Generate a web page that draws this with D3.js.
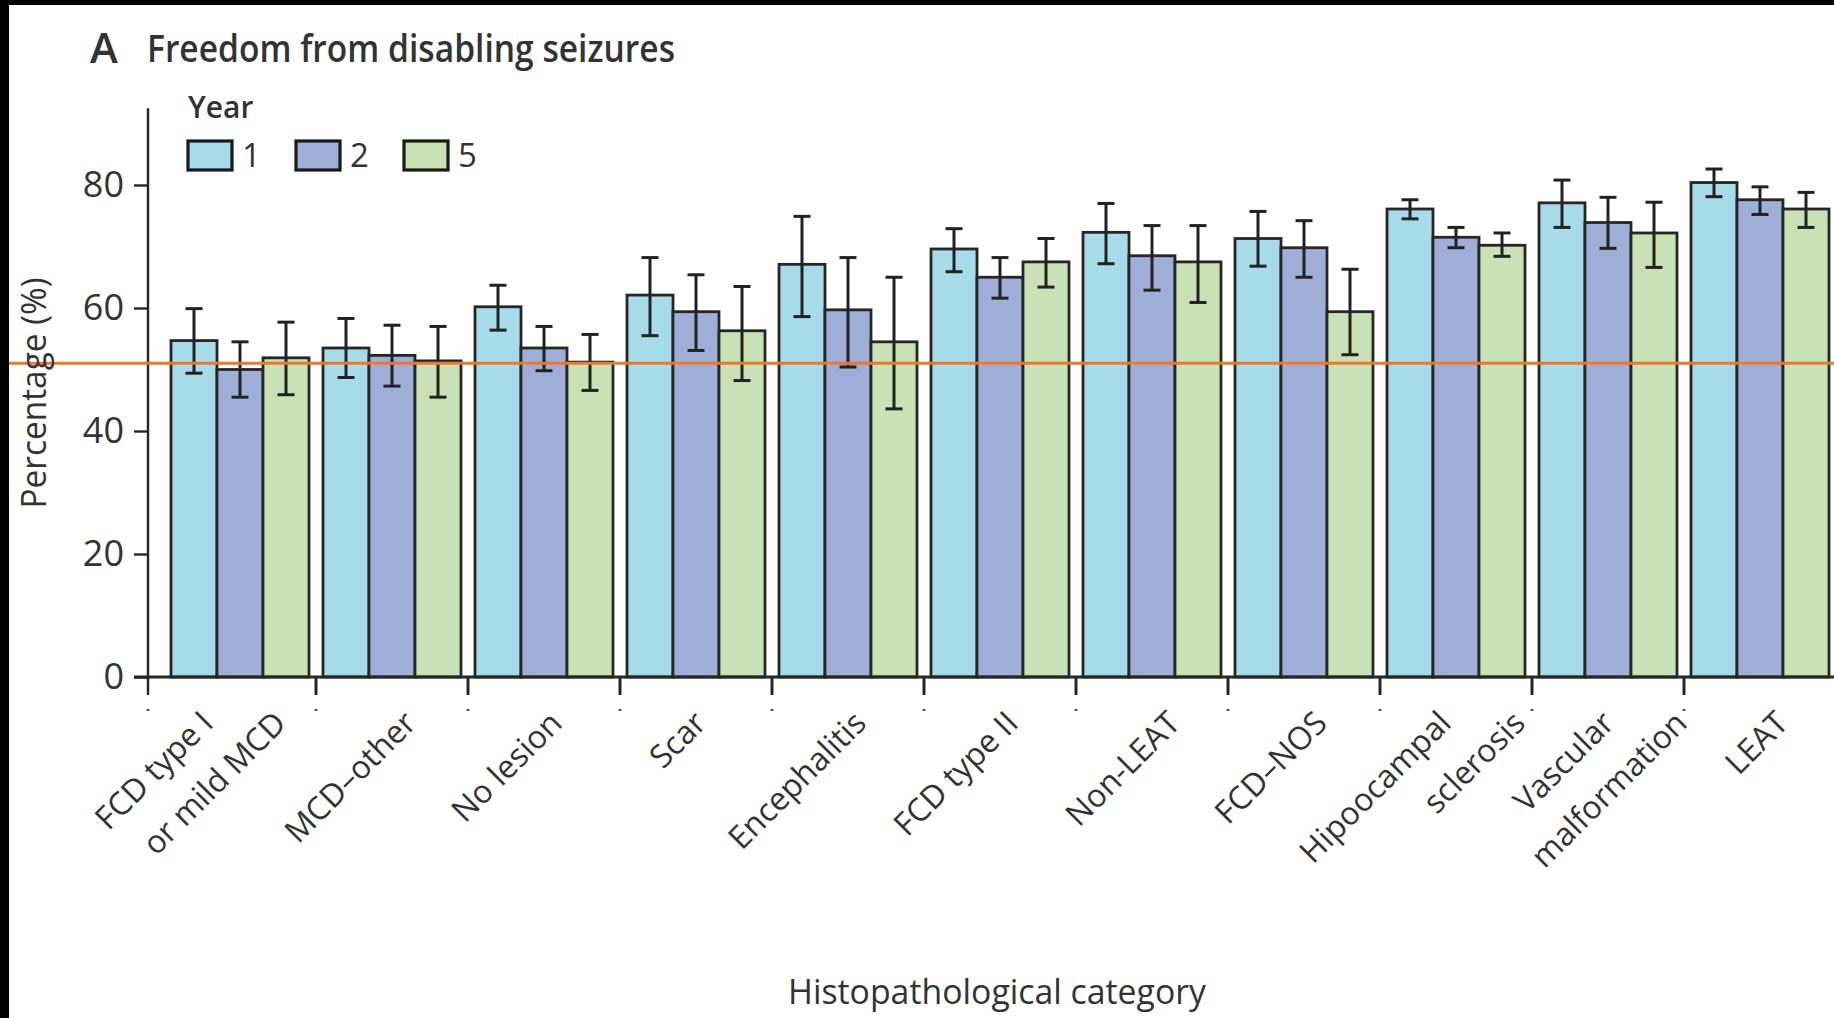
<!DOCTYPE html>
<html>
<head>
<meta charset="utf-8">
<script src="https://cdn.jsdelivr.net/npm/d3@7"></script>
<style>
  body { margin: 0; background: #fff; }
  svg { display: block; }
  text { font-family: "Open Sans", "Noto Sans", sans-serif; fill: #333; }
</style>
</head>
<body>
<div id="chart"></div>
<script>
// categories along the x axis (label lines as printed)
const categories = ["FCD type I or mild MCD", "MCD–other", "No lesion", "Scar", "Encephalitis",
  "FCD type II", "Non-LEAT", "FCD–NOS", "Hipoocampal sclerosis", "Vascular malformation", "LEAT"];
const categoryLines = [["FCD type I", "or mild MCD"], ["MCD–other"], ["No lesion"], ["Scar"], ["Encephalitis"],
  ["FCD type II"], ["Non-LEAT"], ["FCD–NOS"], ["Hipoocampal", "sclerosis"], ["Vascular", "malformation"], ["LEAT"]];

const years = ["1", "2", "5"];

// percentage free from disabling seizures, with lower / upper error bar ends
const year1 = [54.7, 53.5, 60.2, 62.1, 67.1, 69.6, 72.3, 71.3, 76.1, 77.1, 80.4];
const year1Low = [49.4, 48.7, 56.4, 55.5, 58.6, 65.9, 67.2, 66.8, 74.5, 73.1, 78.1];
const year1High = [59.9, 58.3, 63.7, 68.2, 74.9, 72.9, 77.0, 75.7, 77.6, 80.8, 82.6];

const year2 = [50.0, 52.3, 53.5, 59.4, 59.7, 65.0, 68.5, 69.8, 71.5, 73.9, 77.6];
const year2Low = [45.5, 47.3, 49.8, 53.1, 50.4, 61.6, 62.9, 65.0, 69.8, 69.7, 75.2];
const year2High = [54.5, 57.2, 57.0, 65.4, 68.2, 68.2, 73.4, 74.2, 73.1, 78.0, 79.7];

const year5 = [51.9, 51.4, 51.2, 56.3, 54.5, 67.5, 67.5, 59.4, 70.2, 72.2, 76.1];
const year5Low = [45.9, 45.5, 46.6, 48.2, 43.6, 63.4, 60.9, 52.4, 68.4, 66.6, 73.1];
const year5High = [57.7, 57.0, 55.7, 63.5, 65.0, 71.3, 73.4, 66.3, 72.2, 77.2, 78.8];

const yTicks = [0, 20, 40, 60, 80];
const refLine = 51; // orange reference line

const W = 1834, H = 1018;
const COLORS = { "1": "#a8dbea", "2": "#9eaed6", "5": "#c9e1b4" };

const series = [
  { year: "1", mean: year1, low: year1Low, high: year1High },
  { year: "2", mean: year2, low: year2Low, high: year2High },
  { year: "5", mean: year5, low: year5Low, high: year5High }
];

const svg = d3.select("#chart").append("svg")
  .attr("width", W)
  .attr("height", H);

svg.append("rect").attr("width", W).attr("height", H).attr("fill", "#fff");

// scales
const axisX = 148;
const x = d3.scaleBand().domain(categories).range([164, 1836]);
const xIn = d3.scaleBand().domain(years).range([7, x.bandwidth() - 7]);
const y = d3.scaleLinear().domain([0, 80]).range([677, 185]);

const rows = [];
series.forEach(s => {
  categories.forEach((c, i) => {
    rows.push({ cat: c, year: s.year, v: s.mean[i], lo: s.low[i], hi: s.high[i] });
  });
});

// bars
svg.append("g").selectAll("rect")
  .data(rows)
  .join("rect")
  .attr("x", d => x(d.cat) + xIn(d.year))
  .attr("y", d => y(d.v))
  .attr("width", xIn.bandwidth())
  .attr("height", d => y(0) - y(d.v))
  .attr("fill", d => COLORS[d.year])
  .attr("stroke", "#262626")
  .attr("stroke-width", 2.8);

// error bars
const eb = svg.append("g").attr("stroke", "#222").attr("stroke-width", 3);
const cx = d => x(d.cat) + xIn(d.year) + xIn.bandwidth() / 2;
eb.selectAll(".stem").data(rows).join("line")
  .attr("x1", cx).attr("x2", cx)
  .attr("y1", d => y(d.lo)).attr("y2", d => y(d.hi));
eb.selectAll(".capHi").data(rows).join("line")
  .attr("x1", d => cx(d) - 8.5).attr("x2", d => cx(d) + 8.5)
  .attr("y1", d => y(d.hi)).attr("y2", d => y(d.hi));
eb.selectAll(".capLo").data(rows).join("line")
  .attr("x1", d => cx(d) - 8.5).attr("x2", d => cx(d) + 8.5)
  .attr("y1", d => y(d.lo)).attr("y2", d => y(d.lo));

// y axis
const yAxis = d3.axisLeft(y).tickValues(yTicks).tickSize(14).tickPadding(10).tickSizeOuter(0);
const yG = svg.append("g").attr("transform", `translate(${axisX},0)`).call(yAxis);
yG.select(".domain").remove();
yG.selectAll(".tick line").attr("stroke", "#262626").attr("stroke-width", 2.4);
yG.selectAll(".tick text").attr("font-size", 36).attr("fill", "#333")
  .style("font-family", '"Open Sans", sans-serif');
svg.append("line")
  .attr("x1", axisX).attr("x2", axisX)
  .attr("y1", y(92.5)).attr("y2", y(0) + 18)
  .attr("stroke", "#262626").attr("stroke-width", 2.4);

// x axis line and boundary ticks
svg.append("line")
  .attr("x1", axisX - 14).attr("x2", W)
  .attr("y1", y(0)).attr("y2", y(0))
  .attr("stroke", "#262626").attr("stroke-width", 2.8);
const tickXs = [axisX].concat(categories.slice(1).map(c => x(c)));
svg.append("g").selectAll("line").data(tickXs.slice(1)).join("line")
  .attr("x1", d => d).attr("x2", d => d)
  .attr("y1", y(0)).attr("y2", y(0) + 18)
  .attr("stroke", "#262626").attr("stroke-width", 3);
svg.append("g").selectAll("rect").data(tickXs).join("rect")
  .attr("x", d => d - 1.5).attr("y", y(0) + 32)
  .attr("width", 3).attr("height", 2)
  .attr("fill", "#555");

// category labels (rotated 45 degrees)
const labelDx = [[-25, 48], [26], [20], [12], [20], [20], [30], [25], [-3, 71], [8, 81], [30]];
const labelY = 725;
const labG = svg.append("g");
categories.forEach((c, i) => {
  const mid = x(c) + x.bandwidth() / 2;
  categoryLines[i].forEach((t, j) => {
    const px = mid + labelDx[i][j];
    labG.append("text")
      .attr("transform", `translate(${px},${labelY}) rotate(-45)`)
      .attr("text-anchor", "end")
      .attr("font-size", 32)
      .attr("fill", "#333")
      .text(t);
  });
});

// orange reference line
svg.append("line")
  .attr("x1", 9).attr("x2", W)
  .attr("y1", y(refLine)).attr("y2", y(refLine))
  .attr("stroke", "#e8792f").attr("stroke-width", 3);

// axis titles
svg.append("text")
  .attr("transform", `translate(46,${393}) rotate(-90)`)
  .attr("text-anchor", "middle")
  .attr("font-size", 34)
  .attr("fill", "#444")
  .attr("textLength", 231).attr("lengthAdjust", "spacingAndGlyphs")
  .text("Percentage (%)");

svg.append("text")
  .attr("x", 997).attr("y", 1004)
  .attr("text-anchor", "middle")
  .attr("font-size", 35)
  .attr("fill", "#333")
  .attr("textLength", 418).attr("lengthAdjust", "spacingAndGlyphs")
  .text("Histopathological category");

// panel title
svg.append("text")
  .attr("x", 90).attr("y", 63)
  .attr("font-size", 42).attr("font-weight", 600)
  .attr("fill", "#222")
  .text("A");
svg.append("text")
  .attr("x", 147).attr("y", 62)
  .attr("font-size", 37).attr("font-weight", 600)
  .attr("fill", "#333")
  .attr("textLength", 528).attr("lengthAdjust", "spacingAndGlyphs")
  .text("Freedom from disabling seizures");

// legend
const leg = svg.append("g");
leg.append("text")
  .attr("x", 188).attr("y", 118)
  .attr("font-size", 30).attr("font-weight", 600)
  .attr("fill", "#222")
  .text("Year");
const legItems = leg.selectAll("g.item").data(years).join("g")
  .attr("transform", (d, i) => `translate(${188 + i * 108},141)`);
legItems.append("rect")
  .attr("width", 44).attr("height", 29)
  .attr("fill", d => COLORS[d])
  .attr("stroke", "#1a1a1a").attr("stroke-width", 3.2);
legItems.append("text")
  .attr("x", 54).attr("y", 26)
  .attr("font-size", 33)
  .attr("fill", "#333")
  .text(d => d);

// black frame strips on the left and top of the scanned figure
svg.append("rect").attr("x", 0).attr("y", 0).attr("width", 9).attr("height", H).attr("fill", "#000");
svg.append("rect").attr("x", 0).attr("y", 0).attr("width", W).attr("height", 5).attr("fill", "#000");
</script>
</body>
</html>
